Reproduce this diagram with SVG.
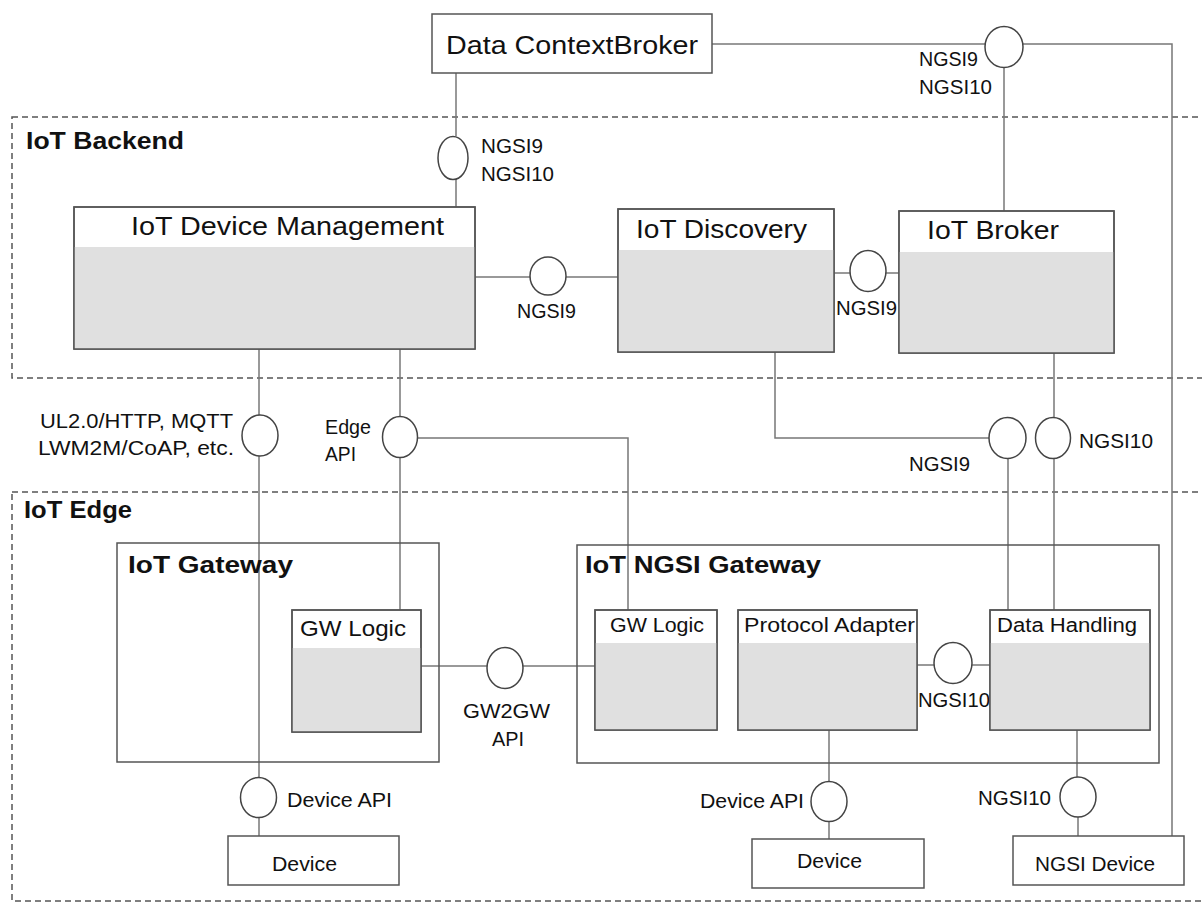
<svg xmlns="http://www.w3.org/2000/svg" width="1202" height="902" viewBox="0 0 1202 902">
<style>
.zone{fill:none;stroke:#555;stroke-width:1.5;stroke-dasharray:6 4}
.box{fill:#fff;stroke:#555;stroke-width:1.5}
.outline{fill:none;stroke:#555;stroke-width:1.5}
.body{fill:#e0e0e0;stroke:none}
.con{fill:none;stroke:#777;stroke-width:1.5}
.itf{fill:#fff;stroke:#444;stroke-width:1.5}
text{font-family:"Liberation Sans",Arial,sans-serif;fill:#111}
.t{font-size:26px}
.h{font-size:24px;font-weight:bold}
.m{font-size:22px}
.l{font-size:20px}
</style>
<rect width="1202" height="902" fill="#fff"/>
<g id="zones">
<rect class="zone" x="12" y="117" width="1200" height="261"/>
<text class="h" x="26" y="149" textLength="158" lengthAdjust="spacingAndGlyphs">IoT Backend</text>
<rect class="zone" x="12" y="492" width="1200" height="409"/>
<text class="h" x="24" y="518" textLength="108" lengthAdjust="spacingAndGlyphs">IoT Edge</text>
</g>
<g id="connectors">
<polyline class="con" points="456,73 456,136"/>
<polyline class="con" points="456,179 456,207"/>
<polyline class="con" points="712,44 985,44"/>
<polyline class="con" points="1023,44 1172,44 1172,836"/>
<polyline class="con" points="1004,67 1004,211"/>
<polyline class="con" points="475,277 530,277"/>
<polyline class="con" points="566,277 618,277"/>
<polyline class="con" points="834,273 850,273"/>
<polyline class="con" points="886,273 899,273"/>
<polyline class="con" points="259,349 259,415"/>
<polyline class="con" points="259,456 259,778"/>
<polyline class="con" points="259,818 259,836"/>
<polyline class="con" points="400,349 400,417"/>
<polyline class="con" points="400,457 400,610"/>
<polyline class="con" points="418,438 628,438 628,610"/>
<polyline class="con" points="775,352 775,438 989,438"/>
<polyline class="con" points="1054,353 1054,418"/>
<polyline class="con" points="1008,458 1008,610"/>
<polyline class="con" points="1054,458 1054,610"/>
<polyline class="con" points="421,666 487,666"/>
<polyline class="con" points="523,666 595,666"/>
<polyline class="con" points="917,665 934,665"/>
<polyline class="con" points="972,665 990,665"/>
<polyline class="con" points="829,730 829,782"/>
<polyline class="con" points="829,822 829,839"/>
<polyline class="con" points="1077,730 1077,777"/>
<polyline class="con" points="1078,817 1078,836"/>
</g>
<g id="interfaces">
<ellipse class="itf" cx="453" cy="158" rx="15" ry="21.5"/>
<text class="l" x="481" y="153" textLength="62" lengthAdjust="spacingAndGlyphs">NGSI9</text>
<text class="l" x="481" y="181" textLength="73" lengthAdjust="spacingAndGlyphs">NGSI10</text>
<ellipse class="itf" cx="1004" cy="47" rx="19" ry="20.5"/>
<text class="l" x="919" y="66" textLength="59" lengthAdjust="spacingAndGlyphs">NGSI9</text>
<text class="l" x="919" y="94" textLength="73" lengthAdjust="spacingAndGlyphs">NGSI10</text>
<ellipse class="itf" cx="548" cy="276" rx="18" ry="19"/>
<text class="l" x="517" y="318" textLength="59" lengthAdjust="spacingAndGlyphs">NGSI9</text>
<ellipse class="itf" cx="868" cy="271" rx="18" ry="20.5"/>
<text class="l" x="836" y="315" textLength="61" lengthAdjust="spacingAndGlyphs">NGSI9</text>
<ellipse class="itf" cx="260" cy="435.5" rx="18" ry="20.5"/>
<text class="l" x="40" y="428" textLength="193" lengthAdjust="spacingAndGlyphs">UL2.0/HTTP, MQTT</text>
<text class="l" x="38" y="455" textLength="196" lengthAdjust="spacingAndGlyphs">LWM2M/CoAP, etc.</text>
<ellipse class="itf" cx="400" cy="437" rx="17.5" ry="20.5"/>
<text class="l" x="325" y="434" textLength="46" lengthAdjust="spacingAndGlyphs">Edge</text>
<text class="l" x="325" y="461" textLength="31" lengthAdjust="spacingAndGlyphs">API</text>
<ellipse class="itf" cx="1007.5" cy="438" rx="18.5" ry="20.5"/>
<text class="l" x="909" y="471" textLength="61" lengthAdjust="spacingAndGlyphs">NGSI9</text>
<ellipse class="itf" cx="1053" cy="438" rx="17.5" ry="20.5"/>
<text class="l" x="1079" y="448" textLength="74" lengthAdjust="spacingAndGlyphs">NGSI10</text>
<ellipse class="itf" cx="505" cy="668" rx="18" ry="20.5"/>
<text class="l" x="463" y="718" textLength="87" lengthAdjust="spacingAndGlyphs">GW2GW</text>
<text class="l" x="492" y="746" textLength="32" lengthAdjust="spacingAndGlyphs">API</text>
<ellipse class="itf" cx="953" cy="663" rx="19" ry="20.5"/>
<text class="l" x="918" y="707" textLength="72" lengthAdjust="spacingAndGlyphs">NGSI10</text>
<ellipse class="itf" cx="258.5" cy="797.5" rx="18" ry="20"/>
<text class="l" x="287" y="807" textLength="105" lengthAdjust="spacingAndGlyphs">Device API</text>
<ellipse class="itf" cx="829" cy="801.5" rx="18" ry="20"/>
<text class="l" x="700" y="808" textLength="104" lengthAdjust="spacingAndGlyphs">Device API</text>
<ellipse class="itf" cx="1078" cy="797" rx="18" ry="20"/>
<text class="l" x="978" y="805" textLength="73" lengthAdjust="spacingAndGlyphs">NGSI10</text>
</g>
<g id="data-context-broker">
<rect class="box" x="432" y="14" width="280" height="59"/>
<text class="t" x="446" y="54" textLength="252" lengthAdjust="spacingAndGlyphs">Data ContextBroker</text>
</g>
<g id="iot-device-management">
<rect class="box" x="74" y="207" width="401" height="142"/>
<rect class="body" x="74" y="247" width="401" height="102"/>
<rect class="outline" x="74" y="207" width="401" height="142"/>
<text class="t" x="131" y="235" textLength="313" lengthAdjust="spacingAndGlyphs">IoT Device Management</text>
</g>
<g id="iot-discovery">
<rect class="box" x="618" y="209" width="216" height="143"/>
<rect class="body" x="618" y="250" width="216" height="102"/>
<rect class="outline" x="618" y="209" width="216" height="143"/>
<text class="t" x="636" y="238" textLength="171" lengthAdjust="spacingAndGlyphs">IoT Discovery</text>
</g>
<g id="iot-broker">
<rect class="box" x="899" y="211" width="215" height="142"/>
<rect class="body" x="899" y="252" width="215" height="101"/>
<rect class="outline" x="899" y="211" width="215" height="142"/>
<text class="t" x="927" y="239" textLength="132" lengthAdjust="spacingAndGlyphs">IoT Broker</text>
</g>
<g id="iot-gateway">
<rect class="outline" x="117" y="543" width="322" height="219"/>
<text class="h" x="128" y="573" textLength="165" lengthAdjust="spacingAndGlyphs">IoT Gateway</text>
</g>
<g id="gw-logic-1">
<rect class="box" x="292" y="610" width="129" height="122"/>
<rect class="body" x="292" y="648" width="129" height="84"/>
<rect class="outline" x="292" y="610" width="129" height="122"/>
<text class="m" x="300" y="636" textLength="106" lengthAdjust="spacingAndGlyphs">GW Logic</text>
</g>
<g id="iot-ngsi-gateway">
<rect class="outline" x="577" y="545" width="582" height="218"/>
<text class="h" x="585" y="573" textLength="236" lengthAdjust="spacingAndGlyphs">IoT NGSI Gateway</text>
</g>
<g id="gw-logic-2">
<rect class="box" x="595" y="610" width="122" height="120"/>
<rect class="body" x="595" y="643" width="122" height="87"/>
<rect class="outline" x="595" y="610" width="122" height="120"/>
<text class="l" x="610" y="632" textLength="94" lengthAdjust="spacingAndGlyphs">GW Logic</text>
</g>
<g id="protocol-adapter">
<rect class="box" x="738" y="610" width="179" height="120"/>
<rect class="body" x="738" y="643" width="179" height="87"/>
<rect class="outline" x="738" y="610" width="179" height="120"/>
<text class="l" x="744" y="632" textLength="171" lengthAdjust="spacingAndGlyphs">Protocol Adapter</text>
</g>
<g id="data-handling">
<rect class="box" x="990" y="610" width="160" height="120"/>
<rect class="body" x="990" y="643" width="160" height="87"/>
<rect class="outline" x="990" y="610" width="160" height="120"/>
<text class="l" x="997" y="632" textLength="140" lengthAdjust="spacingAndGlyphs">Data Handling</text>
</g>
<g id="device-1">
<rect class="box" x="228" y="836" width="171" height="49"/>
<text class="l" x="272" y="871" textLength="65" lengthAdjust="spacingAndGlyphs">Device</text>
</g>
<g id="device-2">
<rect class="box" x="752" y="839" width="172" height="49"/>
<text class="l" x="797" y="868" textLength="65" lengthAdjust="spacingAndGlyphs">Device</text>
</g>
<g id="ngsi-device">
<rect class="box" x="1013" y="836" width="171" height="49"/>
<text class="l" x="1035" y="871" textLength="120" lengthAdjust="spacingAndGlyphs">NGSI Device</text>
</g>
</svg>
